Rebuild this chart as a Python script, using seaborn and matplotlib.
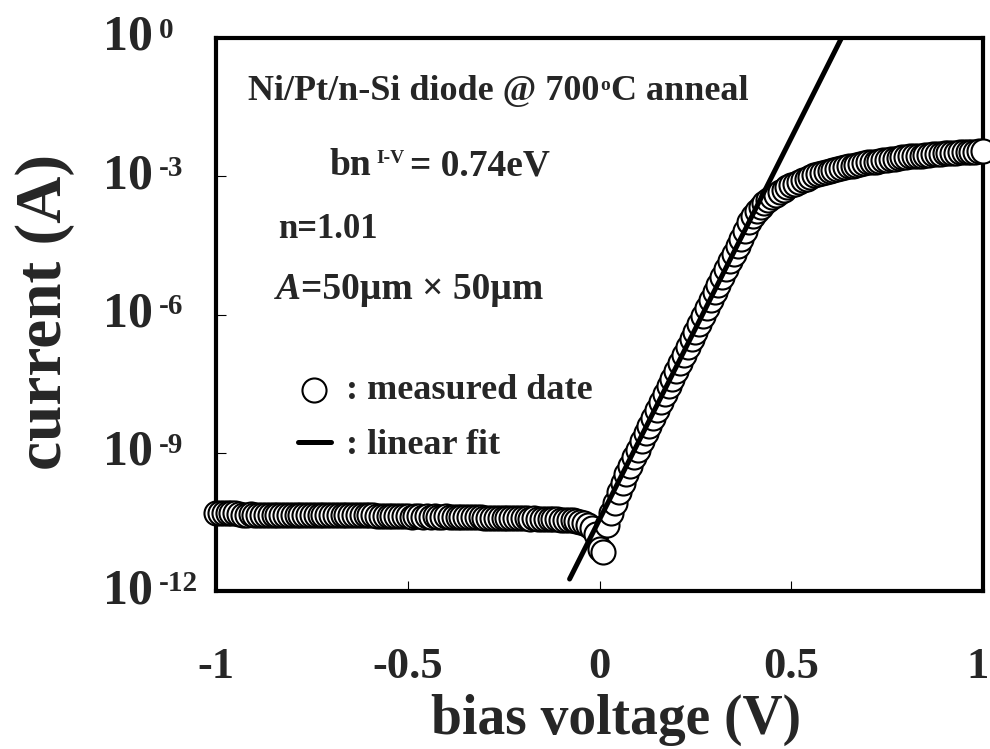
import numpy as np
import pandas as pd
import matplotlib
matplotlib.use("Agg")
import matplotlib.pyplot as plt
import seaborn as sns
from matplotlib import transforms
from matplotlib.ticker import NullLocator

# ---------------- data ----------------
# voltage sweep grid, 10 mV steps
voltage_reverse = np.round(np.linspace(-1.00, -0.01, 100), 2)
voltage_forward = np.round(np.linspace(0.00, 1.00, 101), 2)

# log10 of measured current (A)
log_current_reverse = [
    -10.30, -10.30, -10.31, -10.30, -10.31, -10.31, -10.32,
    -10.34, -10.34, -10.33, -10.34, -10.34, -10.35, -10.34, -10.34, -10.34, -10.35,
    -10.34, -10.35, -10.35, -10.34, -10.35, -10.35, -10.35, -10.34, -10.35, -10.35,
    -10.35, -10.35, -10.36, -10.35, -10.35, -10.36, -10.35, -10.36, -10.36, -10.35,
    -10.36, -10.36, -10.36, -10.36, -10.36,
    -10.38, -10.38, -10.38, -10.37, -10.38, -10.38, -10.38, -10.38, -10.38, -10.39,
    -10.38, -10.38, -10.39, -10.38, -10.39, -10.38, -10.39, -10.39, -10.38, -10.39,
    -10.39, -10.39, -10.39, -10.39, -10.39, -10.40, -10.39, -10.40,
    -10.41, -10.41, -10.41, -10.41, -10.42, -10.41, -10.42, -10.42, -10.42, -10.42,
    -10.42, -10.42, -10.43, -10.42, -10.43, -10.43, -10.43, -10.43, -10.44,
    -10.44, -10.45, -10.45, -10.46, -10.47, -10.48, -10.50, -10.53, -10.57, -10.63, -10.76,
]
log_current_forward = [
    -11.09, -11.16, -10.57, -10.30, -10.08, -9.85, -9.65, -9.46, -9.28, -9.10,
    -8.93, -8.75, -8.58, -8.41, -8.24, -8.07, -7.90, -7.73, -7.56, -7.39,
    -7.22, -7.05, -6.88, -6.71, -6.54, -6.37, -6.20, -6.03, -5.86, -5.69,
    -5.52, -5.35, -5.18, -5.01, -4.84, -4.68, -4.52, -4.36, -4.18, -4.00,
    -3.86, -3.76, -3.67, -3.59, -3.52, -3.46, -3.40, -3.34, -3.29, -3.24,
    -3.20, -3.16, -3.12, -3.08, -3.05, -3.01, -2.98, -2.95, -2.93, -2.90,
    -2.88, -2.86, -2.84, -2.82, -2.80, -2.78, -2.77, -2.75, -2.73, -2.72,
    -2.70, -2.69, -2.68, -2.66, -2.65, -2.64, -2.63, -2.62, -2.60, -2.59,
    -2.58, -2.57, -2.56, -2.55, -2.55, -2.54, -2.53, -2.52, -2.52, -2.51,
    -2.50, -2.50, -2.49, -2.49, -2.48, -2.48, -2.47, -2.47, -2.47, -2.46,
    -2.46,
]

# linear fit line (end points)
fit_voltage = [-0.078, 0.631]
fit_log_current = [-11.74, 0.0]

x_ticks = [-1, -0.5, 0, 0.5, 1]
x_tick_labels = ["-1", "-0.5", "0", "0.5", "1"]
y_tick_exponents = [0, -3, -6, -9, -12]
y_tick_exponent_labels = ["0", "-3", "-6", "-9", "-12"]

x_label = "bias voltage (V)"
y_label = "current (A)"
legend_labels = [": measured date", ": linear fit"]

# ---------------- figure ----------------
sns.set_theme(style="white")
plt.rcParams["font.family"] = ["Liberation Serif", "DejaVu Serif"]
plt.rcParams["font.weight"] = "bold"
plt.rcParams["axes.labelweight"] = "bold"
plt.rcParams["axes.edgecolor"] = "black"

W, H = 990, 749
fig = plt.figure(figsize=(W / 100, H / 100), dpi=100)
ax_l, ax_r, ax_t, ax_b = 216, 983, 38, 591
ax = fig.add_axes([ax_l / W, 1 - ax_b / H, (ax_r - ax_l) / W, (ax_b - ax_t) / H])

def fx(px):
    return (px - ax_l) / (ax_r - ax_l)

def fy(py):
    return (ax_b - py) / (ax_b - ax_t)

df = pd.DataFrame({
    "voltage": np.concatenate([voltage_reverse, voltage_forward]),
    "current": 10.0 ** np.array(log_current_reverse + log_current_forward),
})
df_fit = pd.DataFrame({"voltage": fit_voltage,
                       "current": 10.0 ** np.array(fit_log_current)})

ax.set_yscale("log")
sns.scatterplot(data=df, x="voltage", y="current", ax=ax, marker="o", s=300,
                color="white", edgecolor="black", linewidth=1.5,
                zorder=3, clip_on=False, legend=False)
sns.lineplot(data=df_fit, x="voltage", y="current", ax=ax, color="black",
             linewidth=3.6, zorder=4)

ax.set_xlim(-1, 1)
ax.set_ylim(1e-12, 1e0)

for sp in ax.spines.values():
    sp.set_linewidth(3.0)
    sp.set_color("black")

ax.set_xticks(x_ticks)
ax.set_xticklabels(x_tick_labels, fontsize=32, fontweight="bold")
ax.set_yticks([10.0 ** e for e in y_tick_exponents])
ax.set_yticklabels([])
ax.yaxis.set_minor_locator(NullLocator())
ax.tick_params(axis="both", which="major", direction="in", length=7, width=0.8,
               color="black", bottom=True, left=True, top=False, right=False)
ax.tick_params(axis="x", pad=40.5)
# nudge the last x tick label inward a little, as in the reference
last = ax.get_xticklabels()[-1]
last.set_transform(last.get_transform() +
                   transforms.ScaledTranslation(-6 / 100, 0, fig.dpi_scale_trans))

# y tick labels: "10" + superscript exponent
btr = transforms.blended_transform_factory(ax.transAxes, ax.transData)
for e, lab in zip(y_tick_exponents, y_tick_exponent_labels):
    ax.text(fx(153), 10.0 ** e, "10", transform=btr, ha="right", va="center",
            fontsize=36, fontweight="bold", clip_on=False)
    ax.text(fx(159), 10.0 ** e, lab, transform=btr, ha="left", va="baseline",
            fontsize=21, fontweight="bold", clip_on=False)

ax.set_xlabel(x_label, fontsize=40, fontweight="bold")
ax.xaxis.set_label_coords(fx(616), fy(734))
ax.xaxis.label.set_va("baseline")
ax.set_ylabel(y_label, fontsize=47, fontweight="bold")
ax.yaxis.set_label_coords(fx(45), fy(312))
ax.yaxis.label.set_va("center")
ax.yaxis.label.set_ha("center")

# annotations
t1 = ax.text(fx(248), fy(100), "Ni/Pt/n-Si diode @ 700", transform=ax.transAxes,
             fontsize=26, fontweight="bold", va="baseline", ha="left")
t2 = ax.annotate("o", xy=(1, 0), xycoords=t1, xytext=(0.5, 10),
                 textcoords="offset points", fontsize=14, fontweight="bold",
                 va="bottom", ha="left")
ax.annotate("C anneal", xy=(1, 0), xycoords=(t2, t1), xytext=(0.5, 0),
            textcoords="offset points", fontsize=26, fontweight="bold",
            va="bottom", ha="left")

b1 = ax.text(fx(330), fy(175), "bn", transform=ax.transAxes, fontsize=27,
             fontweight="bold", va="baseline", ha="left")
b2 = ax.annotate("I-V", xy=(1, 0), xycoords=b1, xytext=(3, 11.5),
                 textcoords="offset points", fontsize=14, fontweight="bold",
                 va="bottom", ha="left")
ax.annotate("= 0.74eV", xy=(1, 0), xycoords=(b2, b1), xytext=(4, 0),
            textcoords="offset points", fontsize=27, fontweight="bold",
            va="bottom", ha="left")

ax.text(fx(278), fy(238), "n=1.01", transform=ax.transAxes, fontsize=25,
        fontweight="bold", va="baseline", ha="left")

a1 = ax.text(fx(276), fy(299), "A", transform=ax.transAxes, fontsize=27,
             fontweight="bold", style="italic", va="baseline", ha="left")
ax.annotate("=50\u00b5m \u00d7 50\u00b5m", xy=(1, 0), xycoords=a1, xytext=(0, 0),
            textcoords="offset points", fontsize=27, fontweight="bold",
            va="bottom", ha="left")

# legend
handles = [ax.collections[0], ax.lines[0]]
leg = ax.legend(handles, legend_labels, loc="upper left",
                bbox_to_anchor=(fx(298), fy(374)), frameon=False,
                prop={"family": ["Liberation Serif"], "weight": "bold", "size": 26},
                handlelength=0.9, handletextpad=0.42, borderpad=0,
                borderaxespad=0, labelspacing=0.6, scatterpoints=1)

fig.savefig("out.png", dpi=100)
